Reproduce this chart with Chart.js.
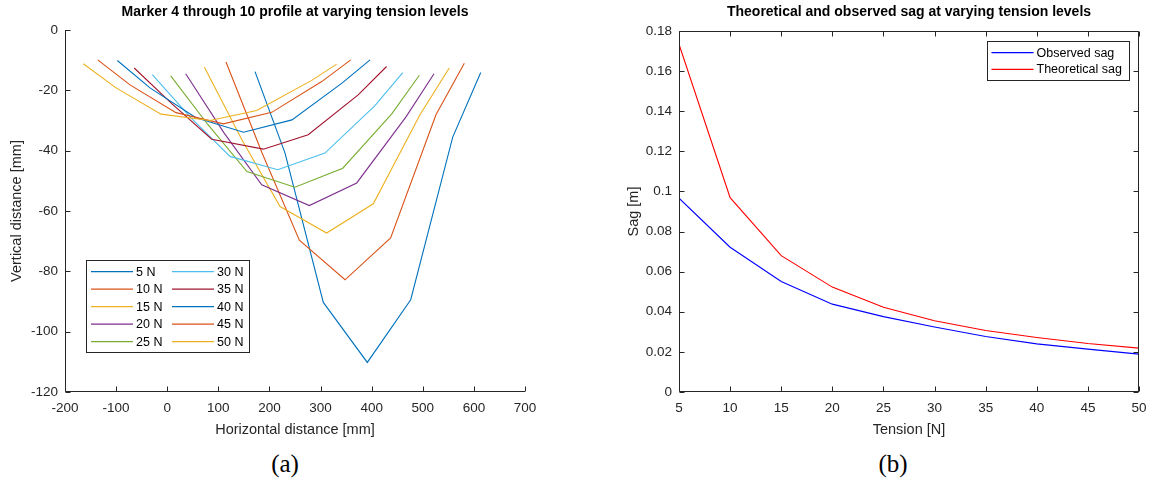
<!DOCTYPE html>
<html>
<head>
<meta charset="utf-8">
<script src="https://cdn.jsdelivr.net/npm/chart.js@4.4.1/dist/chart.umd.min.js"></script>
<style>
  html, body { margin: 0; padding: 0; background: #fff; overflow: hidden; }
  body { width: 1151px; height: 491px; position: relative; }
  #profileChart { position: absolute; left: 0; top: 0; }
  #sagChart { position: absolute; left: 600px; top: 0; }
  .caption { position: absolute; top: 450px; width: 60px; text-align: center;
             font-family: 'Liberation Serif', 'DejaVu Serif', serif; font-size: 25px; color: #000; }
</style>
</head>
<body>
<canvas id="profileChart" width="560" height="445"></canvas>
<canvas id="sagChart" width="551" height="445"></canvas>
<div class="caption" style="left:255px">(a)</div>
<div class="caption" style="left:863px">(b)</div>
<script>
// Marker 4..10 positions [mm] for each tension level
const tensionNames = ['5 N', '10 N', '15 N', '20 N', '25 N', '30 N', '35 N', '40 N', '45 N', '50 N'];
const h05 = [171.8, 230.5, 305.4, 391.5, 476.4, 558.6, 613.4];
const v05 = [-13.8, -40.8, -90.3, -110.2, -89.4, -35.5, -14.1];
const h10 = [115, 185.4, 258.5, 347.9, 437.1, 525.8, 581.3];
const v10 = [-10.6, -40.7, -69.7, -82.8, -68.9, -28.1, -11.0];
const h15 = [72.6, 146.1, 220.7, 311.9, 403.2, 494.5, 551.8];
const v15 = [-12.3, -36.4, -58.5, -67.3, -57.6, -28.1, -12.6];
const h20 = [36.2, 111.1, 184.9, 278, 370.8, 467.2, 522];
const v20 = [-14.5, -34.1, -51.3, -58.2, -50.7, -28.8, -14.5];
const h25 = [6.8, 79.8, 155.9, 249.8, 343.4, 439.3, 493.3];
const v25 = [-15.2, -31.4, -46.9, -52.1, -45.8, -27.8, -15.0];
const h30 = [-29.2, 46.5, 122.8, 216.1, 308.6, 406.4, 460.8];
const v30 = [-14.8, -29.1, -41.9, -46.3, -40.8, -25.1, -14.1];
const h35 = [-64.6, 9.4, 87.1, 188.1, 275.8, 373.6, 429.2];
const v35 = [-12.6, -24.5, -36.2, -39.5, -34.7, -21.5, -12.1];
const h40 = [-97.6, -33.7, 56.3, 149.4, 244, 341.9, 396.9];
const v40 = [-10.1, -19.2, -29.1, -33.9, -29.8, -17.6, -9.9];
const h45 = [-136, -72.8, 17.2, 109.8, 204.5, 302.3, 359];
const v45 = [-9.9, -18.2, -27.4, -31.1, -27.3, -17.1, -9.9];
const h50 = [-164.2, -100.8, -12.1, 83.7, 175.1, 282.7, 331.6];
const v50 = [-11.2, -19.1, -27.9, -30.0, -26.7, -16.7, -11.3];

// Sag vs tension
const tension = [5, 10, 15, 20, 25, 30, 35, 40, 45, 50];
const observedSag = [0.0966, 0.0722, 0.0551, 0.0438, 0.0376, 0.0324, 0.0277, 0.0240, 0.0214, 0.0189];
const theoreticalSag = [0.1734, 0.0969, 0.0680, 0.0523, 0.0423, 0.0355, 0.0307, 0.0272, 0.0242, 0.0219];

// MATLAB default line colours
const lineColors = ['#0072BD', '#D95319', '#EDB120', '#7E2F8E', '#77AC30', '#4DBEEE', '#A2142F'];
const axisColor = '#262626';

const profileH = [h05, h10, h15, h20, h25, h30, h35, h40, h45, h50];
const profileV = [v05, v10, v15, v20, v25, v30, v35, v40, v45, v50];

// draws title, axis lines, inward ticks and boxed legend like MATLAB
const matlabAxes = {
    id: 'matlabAxes',
    afterDatasetsDraw(chart, args, o) {
        const { ctx, chartArea: a, scales: { x, y } } = chart;
        ctx.save();
        ctx.strokeStyle = axisColor;
        ctx.lineWidth = 1;
        const L = Math.round(a.left) + 0.5, R = Math.round(a.right) - 0.5;
        const T = Math.round(a.top) + 0.5, B = Math.round(a.bottom) - 0.5;
        ctx.beginPath();
        ctx.moveTo(L, o.box ? T : a.top);
        ctx.lineTo(L, B);
        ctx.lineTo(R + 0.5, B);
        if (o.box) {
            ctx.moveTo(R, B);
            ctx.lineTo(R, T);
            ctx.lineTo(L, T);
        }
        const len = 5;
        x.ticks.forEach(t => {
            const px = Math.round(x.getPixelForValue(t.value)) + 0.5;
            ctx.moveTo(px, B); ctx.lineTo(px, B - len);
            if (o.box) { ctx.moveTo(px, T); ctx.lineTo(px, T + len); }
        });
        y.ticks.forEach(t => {
            const py = Math.round(y.getPixelForValue(t.value)) + 0.5;
            ctx.moveTo(L, py); ctx.lineTo(L + len, py);
            if (o.box) { ctx.moveTo(R, py); ctx.lineTo(R - len, py); }
        });
        ctx.stroke();

        ctx.fillStyle = '#000';
        ctx.font = 'bold 14px "Liberation Sans", Arial, sans-serif';
        ctx.textAlign = 'center';
        ctx.textBaseline = 'middle';
        ctx.fillText(o.title, (a.left + a.right) / 2, 12.5);
        ctx.restore();
    },
    afterDraw(chart, args, o) {
        const lg = o.legend;
        const ctx = chart.ctx;
        ctx.save();
        ctx.fillStyle = '#fff';
        ctx.fillRect(lg.x, lg.y, lg.w, lg.h);
        ctx.strokeStyle = axisColor;
        ctx.lineWidth = 1;
        ctx.strokeRect(lg.x + 0.5, lg.y + 0.5, lg.w, lg.h);
        ctx.font = '12.5px "Liberation Sans", Arial, sans-serif';
        ctx.textBaseline = 'middle';
        ctx.textAlign = 'left';
        chart.data.datasets.forEach((d, i) => {
            const col = Math.floor(i / lg.rows), row = i % lg.rows;
            const cx = lg.x + lg.pad + col * lg.colW;
            const cy = lg.y + lg.first + row * lg.rowH;
            ctx.strokeStyle = d.borderColor;
            ctx.lineWidth = 1.2;
            ctx.beginPath();
            ctx.moveTo(cx, cy);
            ctx.lineTo(cx + lg.lineLen, cy);
            ctx.stroke();
            ctx.fillStyle = '#000';
            ctx.fillText(d.label, cx + lg.lineLen + lg.gap, cy + 0.5);
        });
        ctx.restore();
    }
};

const tickFont = { family: '"Liberation Sans", Arial, sans-serif', size: 13.5 };
const labelFont = { family: '"Liberation Sans", Arial, sans-serif', size: 14.5 };

// keep the plot box where it is: no extra room for overhanging tick labels
function fixHeight(h) {
    return s => { s.height = h; s.paddingLeft = 0; s.paddingRight = 0; };
}
function fixWidth(w) {
    return s => { s.width = w; s.paddingTop = 0; s.paddingBottom = 0; };
}

// 1. Profile chart
const profileCtx = document.getElementById('profileChart').getContext('2d');
const profileChart = new Chart(profileCtx, {
    type: 'line',
    data: {
        datasets: tensionNames.map((name, i) => ({
            label: name,
            data: profileH[i].map((hx, k) => ({ x: hx, y: profileV[i][k] })),
            borderColor: lineColors[i % lineColors.length],
            borderWidth: 1.1,
            pointRadius: 0,
            fill: false,
            tension: 0,
            order: tensionNames.length - i
        }))
    },
    options: {
        responsive: false,
        animation: false,
        layout: { padding: { top: 30, right: 35, bottom: 0, left: 0 } },
        plugins: {
            legend: { display: false },
            tooltip: { enabled: false },
            matlabAxes: {
                box: false,
                title: 'Marker 4 through 10 profile at varying tension levels',
                legend: { x: 86, y: 260, w: 163, h: 92, rows: 5, pad: 5, colW: 81,
                          lineLen: 42, gap: 3, first: 11.7, rowH: 17.5 }
            }
        },
        scales: {
            x: {
                type: 'linear',
                min: -200, max: 700,
                grid: { display: false, drawTicks: false },
                border: { display: false },
                ticks: { stepSize: 100, autoSkip: false, maxRotation: 0, padding: 8,
                         color: axisColor, font: tickFont },
                title: { display: true, text: 'Horizontal distance [mm]', color: axisColor,
                         font: labelFont, padding: { top: 0, bottom: 6 } },
                afterFit: fixHeight(53)
            },
            y: {
                min: -120, max: 0,
                grid: { display: false, drawTicks: false },
                border: { display: false },
                ticks: { stepSize: 20, autoSkip: false, padding: 7, color: axisColor, font: tickFont },
                title: { display: true, text: 'Vertical distance [mm]', color: axisColor,
                         font: labelFont, padding: { top: 8.5, bottom: 0 } },
                afterFit: fixWidth(65)
            }
        }
    },
    plugins: [matlabAxes]
});

// 2. Sag chart
const sagCtx = document.getElementById('sagChart').getContext('2d');
const sagChart = new Chart(sagCtx, {
    type: 'line',
    data: {
        datasets: [
            {
                label: 'Observed sag',
                data: tension.map((t, i) => ({ x: t, y: observedSag[i] })),
                borderColor: '#0000FF',
                borderWidth: 1.1,
                pointRadius: 0,
                tension: 0
            },
            {
                label: 'Theoretical sag',
                data: tension.map((t, i) => ({ x: t, y: theoreticalSag[i] })),
                borderColor: '#FF0000',
                borderWidth: 1.1,
                pointRadius: 0,
                tension: 0
            }
        ]
    },
    options: {
        responsive: false,
        animation: false,
        layout: { padding: { top: 31, right: 12, bottom: 0, left: 0 } },
        plugins: {
            legend: { display: false },
            tooltip: { enabled: false },
            matlabAxes: {
                box: true,
                title: 'Theoretical and observed sag at varying tension levels',
                legend: { x: 387, y: 41, w: 142, h: 39, rows: 2, pad: 4.5, colW: 0,
                          lineLen: 42, gap: 3, first: 11.7, rowH: 16.6 }
            }
        },
        scales: {
            x: {
                type: 'linear',
                min: 5, max: 50,
                grid: { display: false, drawTicks: false },
                border: { display: false },
                ticks: { stepSize: 5, autoSkip: false, maxRotation: 0, padding: 8,
                         color: axisColor, font: tickFont },
                title: { display: true, text: 'Tension [N]', color: axisColor,
                         font: labelFont, padding: { top: 0, bottom: 6 } },
                afterFit: fixHeight(53)
            },
            y: {
                min: 0, max: 0.18,
                grid: { display: false, drawTicks: false },
                border: { display: false },
                ticks: { stepSize: 0.02, autoSkip: false, padding: 7, color: axisColor, font: tickFont,
                         callback: v => String(Math.round(v * 100) / 100) },
                title: { display: true, text: 'Sag [m]', color: axisColor,
                         font: labelFont, padding: { top: 25, bottom: 0 } },
                afterFit: fixWidth(79)
            }
        }
    },
    plugins: [matlabAxes]
});
</script>
</body>
</html>
